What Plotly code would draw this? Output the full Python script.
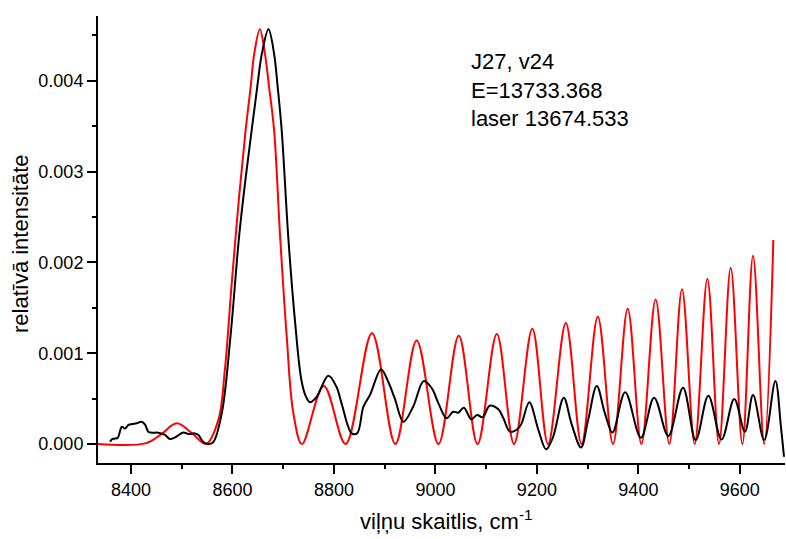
import plotly.graph_objects as go

# Red (calculated) spectrum: read-off extremes and shoulder points
red_x = [8335, 8430, 8460, 8490, 8520, 8548, 8572, 8585, 8598, 8613, 8626, 8636,
         8643, 8654, 8664, 8672, 8682, 8694, 8707, 8720, 8737, 8780, 8823, 8875,
         8921, 8963, 9006, 9046, 9083, 9121, 9155, 9191, 9222, 9257, 9288, 9320,
         9350, 9379, 9406, 9434, 9461, 9486, 9511, 9536, 9559, 9582, 9605, 9626,
         9648, 9666]
red_y = [0.0, 0.00001, 0.00011, 0.000228, 0.00012, 0.0, 0.00026, 0.000815, 0.00173,
         0.00272, 0.00346, 0.00394, 0.0043, 0.004567, 0.0043, 0.00394, 0.00346,
         0.00228, 0.00118, 0.00034, 0.0, 0.00064, 0.0, 0.00122, 0.0, 0.00114, 0.0,
         0.001193, 0.0, 0.001211, 0.0, 0.00127, 0.0, 0.001333, 0.0, 0.001402, 0.0,
         0.00149, 0.0, 0.001593, 0.0, 0.001704, 0.0, 0.001821, 0.0, 0.001942, 0.0,
         0.002074, 0.0, 0.002247]

# Black (measured) spectrum
black_x = [8359, 8362, 8368, 8374, 8382, 8388, 8395, 8403, 8411, 8421, 8428, 8434,
           8441, 8454, 8467, 8477, 8487, 8503, 8513, 8526, 8533, 8542, 8552, 8562,
           8579, 8596, 8613, 8626, 8638, 8649, 8658, 8671, 8682, 8689, 8697, 8710,
           8723, 8736, 8745, 8753, 8766, 8789, 8805, 8815, 8835, 8846, 8858, 8871,
           8893, 8907, 8920, 8937, 8956, 8977, 8993, 9006, 9022, 9035, 9045, 9056,
           9071, 9082, 9093, 9107, 9124, 9134, 9147, 9163, 9170, 9185, 9203, 9218,
           9232, 9253, 9268, 9287, 9301, 9318, 9334, 9349, 9374, 9405, 9431, 9459,
           9488, 9513, 9538, 9564, 9589, 9610, 9626, 9648, 9670, 9681, 9687]
black_y = [0.000025, 0.00005, 0.00006, 0.00007, 0.00019, 0.00017, 0.00021, 0.00022,
           0.000228, 0.000246, 0.00021, 0.000136, 0.000125, 0.000125, 0.0001,
           0.000055, 0.000073, 0.000128, 0.00011, 0.000117, 0.0001, 0.000025, 0.0,
           0.00002, 0.00034, 0.00118, 0.00228, 0.00293, 0.00346, 0.00394, 0.0043,
           0.004567, 0.0043, 0.00394, 0.00346, 0.00228, 0.00137, 0.0007, 0.00052,
           0.00046, 0.00052, 0.000752, 0.00063, 0.000448, 0.000118, 0.00012,
           0.00041, 0.00054, 0.000822, 0.000686, 0.0005, 0.000246, 0.00041,
           0.000694, 0.000613, 0.000448, 0.000285, 0.000356, 0.000345, 0.0004,
           0.000272, 0.00032, 0.000294, 0.000422, 0.000382, 0.000283, 0.000136,
           0.000172, 0.000228, 0.000459, 0.000154, -0.000058, 0.00008, 0.00051,
           0.000228, -0.000037, 0.000264, 0.000639, 0.00034, 0.000128, 0.000569,
           0.00007, 0.00051, 0.000088, 0.00062, 0.000044, 0.000532, 0.00005,
           0.000496, 0.000136, 0.00054, 0.000044, 0.000694, 0.00019, -0.00014]

x_ticks = [8400, 8600, 8800, 9000, 9200, 9400, 9600]
y_ticks = [0.000, 0.001, 0.002, 0.003, 0.004]
y_tick_text = ["0.000", "0.001", "0.002", "0.003", "0.004"]

info_lines = ["J27, v24", "E=13733.368", "laser 13674.533"]

FONT = "Liberation Sans, Arial, sans-serif"

fig = go.Figure()
fig.add_trace(go.Scatter(x=red_x, y=red_y, mode="lines",
                         line=dict(color="#ff0000", width=2, shape="spline"),
                         showlegend=False, hoverinfo="skip"))
fig.add_trace(go.Scatter(x=black_x, y=black_y, mode="lines",
                         line=dict(color="#000000", width=2, shape="spline"),
                         showlegend=False, hoverinfo="skip"))

axis_common = dict(showline=True, linecolor="black", linewidth=2, ticks="outside",
                   tickcolor="black", tickwidth=1.5, ticklen=9, showgrid=False,
                   zeroline=False, mirror=False, automargin=False,
                   tickfont=dict(family=FONT, size=18, color="black"))

fig.update_xaxes(range=[8335, 9689], tickvals=x_ticks,
                 minor=dict(ticks="outside", ticklen=4, dtick=100, tick0=8400,
                            tickcolor="black", tickwidth=1.5, showgrid=False),
                 **axis_common)
fig.update_yaxes(range=[-0.000209, 0.004714], tickvals=y_ticks, ticktext=y_tick_text,
                 minor=dict(ticks="outside", ticklen=4, dtick=0.0005, tick0=0,
                            tickcolor="black", tickwidth=1.5, showgrid=False),
                 **axis_common)

fig.add_annotation(text="<br>".join(info_lines), xref="paper", yref="paper",
                   x=0.540, y=0.93, xanchor="left", yanchor="top", showarrow=False,
                   align="left", font=dict(family=FONT, size=22, color="black"))
fig.add_annotation(text="relatīvā intensitāte", xref="paper", yref="paper",
                   x=-0.112, y=0.49, xanchor="center", yanchor="middle",
                   textangle=-90, showarrow=False,
                   font=dict(family=FONT, size=22, color="black"))
fig.add_annotation(text="viļņu skaitlis, cm<sup>-1</sup>", xref="paper", yref="paper",
                   x=0.5066, y=-0.127, xanchor="center", yanchor="middle",
                   showarrow=False, font=dict(family=FONT, size=22, color="black"))

fig.update_layout(width=786, height=539,
                  margin=dict(l=98, r=1, t=16, b=76, autoexpand=False),
                  paper_bgcolor="white", plot_bgcolor="white",
                  font=dict(family=FONT, color="black"))

fig.write_html("out.html", config={"displayModeBar": False},
               post_script="document.body.style.margin='0';"
                           "document.body.style.overflow='hidden';")
